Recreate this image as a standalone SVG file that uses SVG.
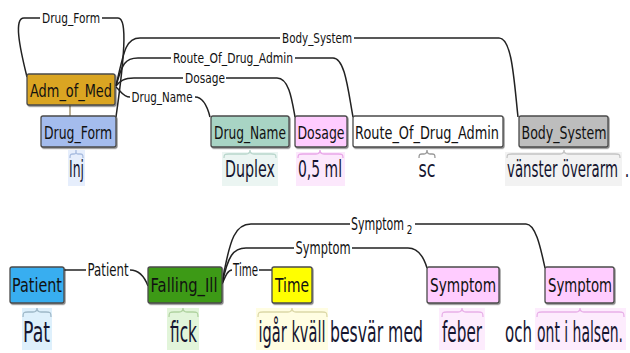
<svg xmlns="http://www.w3.org/2000/svg" width="630" height="353" viewBox="0 0 630 353">
<defs>
<filter id="sh" x="-10%" y="-10%" width="130%" height="140%">
<feDropShadow dx="1" dy="1.2" stdDeviation="0.7" flood-color="#000" flood-opacity="0.45"/>
</filter>
</defs>
<style>
.box{stroke:#4a4a4a;stroke-width:1.3;filter:url(#sh)}
.t{font-family:"DejaVu Sans","Liberation Sans",sans-serif;text-anchor:middle;fill:#111}
.ts{font-family:"DejaVu Sans","Liberation Sans",sans-serif;text-anchor:start;fill:#111}
.bl1{font-size:17px}
.bl2{font-size:20px}
.al1{font-size:14px}
.al2{font-size:17px}
.w1{font-size:23px;fill:#151530}
.w2{font-size:28px;fill:#151530}
.arc{fill:none;stroke:#222;stroke-width:1.5}
.br{fill:none;stroke-width:1.3}
</style>
<rect width="630" height="353" fill="#fff"/>

<g id="highlights">
<rect x="68" y="150" width="17" height="36" fill="#e6eefc"/>
<rect x="222" y="152" width="56" height="34" fill="#ebf5f2"/>
<rect x="296" y="152" width="49" height="34" fill="#fce8fc"/>
<rect x="505" y="152" width="117" height="34" fill="#f2f2f2"/>
<rect x="22" y="308" width="30" height="42" fill="#def0fc"/>
<rect x="167" y="308" width="32" height="42" fill="#e2f5da"/>
<rect x="256" y="308" width="72" height="42" fill="#fffde2"/>
<rect x="439" y="308" width="46" height="42" fill="#fdecfd"/>
<rect x="535" y="308" width="91" height="42" fill="#fdecfd"/>
</g>

<g id="connectors">
<line x1="70" y1="105" x2="70" y2="116" stroke="#8a7a50" stroke-width="1.2"/>
<path class="arc" d="M27,77 C19,45 14,18 24,18 H40"/>
<path class="arc" d="M102,18 H118 C128,18 124,60 116,117"/>
<text class="t al1" transform="translate(71,23) scale(0.75,1)" textLength="77.3" lengthAdjust="spacingAndGlyphs">Drug_Form</text>
<path class="arc" d="M116,86 C124,50 126,38 140,38 H280"/>
<path class="arc" d="M354,38 H499 C512,38 514,80 518,117"/>
<text class="t al1" transform="translate(317,43) scale(0.75,1)" textLength="93.3" lengthAdjust="spacingAndGlyphs">Body_System</text>
<path class="arc" d="M116,86 C122,64 125,58 138,58 H171"/>
<path class="arc" d="M295,58 H333 C345,58 348,90 353,117"/>
<text class="t al1" transform="translate(233,63) scale(0.75,1)" textLength="160" lengthAdjust="spacingAndGlyphs">Route_Of_Drug_Admin</text>
<path class="arc" d="M116,86 C120,81 124,78 134,78 H183"/>
<path class="arc" d="M226,78 H277 C289,78 292,100 295,117"/>
<text class="t al1" transform="translate(205,83) scale(0.75,1)" textLength="53.3" lengthAdjust="spacingAndGlyphs">Dosage</text>
<path class="arc" d="M116,87 C121,91 123,97 130,97"/>
<path class="arc" d="M195,97 C203,97 207,105 210,117"/>
<text class="t al1" transform="translate(162,102) scale(0.75,1)" textLength="81.3" lengthAdjust="spacingAndGlyphs">Drug_Name</text>
<path class="arc" d="M64,270 H86"/>
<path class="arc" d="M130,270 C140,270 145,278 148,286"/>
<text class="t al2" transform="translate(108,276) scale(0.68,1)" textLength="60.3" lengthAdjust="spacingAndGlyphs">Patient</text>
<path class="arc" d="M222,284 C226,275 228,270 232,270"/>
<path class="arc" d="M259,270 H272"/>
<text class="t al2" transform="translate(245.5,276) scale(0.68,1)" textLength="36.8" lengthAdjust="spacingAndGlyphs">Time</text>
<path class="arc" d="M222,284 C228,256 233,248 246,248 H294"/>
<path class="arc" d="M352,248 H408 C419,248 424,258 427,268"/>
<text class="t al2" transform="translate(323,254) scale(0.68,1)" textLength="80.9" lengthAdjust="spacingAndGlyphs">Symptom</text>
<path class="arc" d="M222,284 C230,236 236,224 251,224 H350"/>
<path class="arc" d="M415,224 H526 C536,224 541,250 545,268"/>
<text class="ts al2" transform="translate(351,230) scale(0.68,1)"><tspan textLength="78" lengthAdjust="spacingAndGlyphs">Symptom</tspan><tspan dx="4" dy="4" font-size="13">2</tspan></text>
</g>

<g id="braces">
<path class="br" stroke="#a9bde0" d="M70,158 C70,154 71,154 73,154 L74,154 C76,154 76,153 76,150 C76,153 76,154 78,154 L80,154 C82,154 83,154 83,158"/>
<path class="br" stroke="#b9d6cc" d="M224,158 C224,154 225,154 229,154 L246,154 C249,154 250,153 250,150 C250,153 251,154 254,154 L271,154 C275,154 276,154 276,158"/>
<path class="br" stroke="#e8a6e8" d="M298,158 C298,154 299,154 303,154 L316,154 C319,154 320,153 320,150 C320,153 321,154 324,154 L338,154 C342,154 343,154 343,158"/>
<path class="br" stroke="#999" d="M419,158 C419,154 420,154 422,154 L424,154 C426,154 427,153 427,150 C427,153 428,154 430,154 L432,154 C434,154 435,154 435,158"/>
<path class="br" stroke="#c4c4c4" d="M507,158 C507,154 508,154 512,154 L560,154 C563,154 564,153 564,150 C564,153 565,154 568,154 L615,154 C619,154 620,154 620,158"/>
<path class="br" stroke="#9fb8c8" d="M23,317 C23,312 24,312 28,312 L33,312 C36,312 37,311 37,308 C37,311 38,312 41,312 L46,312 C50,312 51,312 51,317"/>
<path class="br" stroke="#b0d2a0" d="M169,317 C169,312 170,312 174,312 L179,312 C182,312 183,311 183,308 C183,311 184,312 187,312 L193,312 C197,312 198,312 198,317"/>
<path class="br" stroke="#dcd8a8" d="M258,317 C258,312 259,312 263,312 L288,312 C291,312 292,311 292,308 C292,311 293,312 296,312 L322,312 C326,312 327,312 327,317"/>
<path class="br" stroke="#e8b0e8" d="M442,317 C442,312 443,312 447,312 L458,312 C461,312 462,311 462,308 C462,311 463,312 466,312 L478,312 C482,312 483,312 483,317"/>
<path class="br" stroke="#e8b0e8" d="M537,317 C537,312 538,312 542,312 L576,312 C579,312 580,311 580,308 C580,311 581,312 584,312 L619,312 C623,312 624,312 624,317"/>
</g>

<g id="n-adm">
<rect class="box" x="27" y="74" width="88" height="31" rx="2" fill="#daa520"/>
<text class="t bl1" transform="translate(71,97) scale(0.72,1)" textLength="113.9" lengthAdjust="spacingAndGlyphs">Adm_of_Med</text>
</g>
<g id="n-drugform">
<rect class="box" x="41" y="116" width="75" height="31" rx="2" fill="#a4bced"/>
<text class="t bl1" transform="translate(78,139) scale(0.72,1)" textLength="94.4" lengthAdjust="spacingAndGlyphs">Drug_Form</text>
</g>
<g id="n-drugname">
<rect class="box" x="211" y="116" width="78" height="31" rx="2" fill="#a8d4c4"/>
<text class="t bl1" transform="translate(250,139) scale(0.72,1)" textLength="100" lengthAdjust="spacingAndGlyphs">Drug_Name</text>
</g>
<g id="n-dosage">
<rect class="box" x="295" y="116" width="52" height="31" rx="2" fill="#ffccff"/>
<text class="t bl1" transform="translate(321,139) scale(0.72,1)" textLength="65.3" lengthAdjust="spacingAndGlyphs">Dosage</text>
</g>
<g id="n-route">
<rect class="box" x="353" y="116" width="150" height="31" rx="2" fill="#ffffff"/>
<text class="t bl1" transform="translate(427,139) scale(0.72,1)" textLength="200" lengthAdjust="spacingAndGlyphs">Route_Of_Drug_Admin</text>
</g>
<g id="n-body">
<rect class="box" x="519" y="116" width="89" height="31" rx="2" fill="#bdbdbd"/>
<text class="t bl1" transform="translate(564,139) scale(0.72,1)" textLength="118" lengthAdjust="spacingAndGlyphs">Body_System</text>
</g>

<g id="n-patient">
<rect class="box" x="10" y="267" width="54" height="36" rx="2" fill="#38aef0"/>
<text class="t bl2" transform="translate(37,292) scale(0.71,1)" textLength="70.4" lengthAdjust="spacingAndGlyphs">Patient</text>
</g>
<g id="n-falling">
<rect class="box" x="148" y="267" width="74" height="36" rx="2" fill="#3e9a14"/>
<text class="t bl2" transform="translate(184,292) scale(0.71,1)" textLength="94.4" lengthAdjust="spacingAndGlyphs">Falling_Ill</text>
</g>
<g id="n-time">
<rect class="box" x="272" y="267" width="40" height="36" rx="2" fill="#ffff00"/>
<text class="t bl2" transform="translate(292,292) scale(0.71,1)" textLength="47.9" lengthAdjust="spacingAndGlyphs">Time</text>
</g>
<g id="n-symptom1">
<rect class="box" x="427" y="267" width="72" height="36" rx="2" fill="#ffccff"/>
<text class="t bl2" transform="translate(463,292) scale(0.71,1)" textLength="93" lengthAdjust="spacingAndGlyphs">Symptom</text>
</g>
<g id="n-symptom2">
<rect class="box" x="545" y="267" width="69" height="36" rx="2" fill="#ffccff"/>
<text class="t bl2" transform="translate(580,292) scale(0.71,1)" textLength="90.1" lengthAdjust="spacingAndGlyphs">Symptom</text>
</g>

<g id="words">
<text class="t w1" transform="translate(76.5,177) scale(0.62,1)" textLength="24.2" lengthAdjust="spacingAndGlyphs">Inj</text>
<text class="t w1" transform="translate(250,177) scale(0.62,1)" textLength="80.6" lengthAdjust="spacingAndGlyphs">Duplex</text>
<text class="t w1" transform="translate(320,177) scale(0.62,1)" textLength="71" lengthAdjust="spacingAndGlyphs">0,5 ml</text>
<text class="t w1" transform="translate(427,177) scale(0.62,1)" textLength="27.4" lengthAdjust="spacingAndGlyphs">sc</text>
<text class="t w1" transform="translate(562.5,177) scale(0.62,1)" textLength="179" lengthAdjust="spacingAndGlyphs">vänster överarm</text>
<text class="t w1" transform="translate(627,177) scale(0.62,1)">.</text>
<text class="t w2" transform="translate(36.5,342) scale(0.6,1)" textLength="45" lengthAdjust="spacingAndGlyphs">Pat</text>
<text class="t w2" transform="translate(183.5,342) scale(0.6,1)" textLength="45" lengthAdjust="spacingAndGlyphs">fick</text>
<text class="t w2" transform="translate(292,342) scale(0.6,1)" textLength="111.7" lengthAdjust="spacingAndGlyphs">igår kväll</text>
<text class="t w2" transform="translate(376.5,342) scale(0.6,1)" textLength="155" lengthAdjust="spacingAndGlyphs">besvär med</text>
<text class="t w2" transform="translate(462,342) scale(0.6,1)" textLength="66.7" lengthAdjust="spacingAndGlyphs">feber</text>
<text class="t w2" transform="translate(518.5,342) scale(0.6,1)" textLength="45" lengthAdjust="spacingAndGlyphs">och</text>
<text class="t w2" transform="translate(580,342) scale(0.5,1)" textLength="172" lengthAdjust="spacingAndGlyphs">ont i halsen.</text>
</g>
</svg>
